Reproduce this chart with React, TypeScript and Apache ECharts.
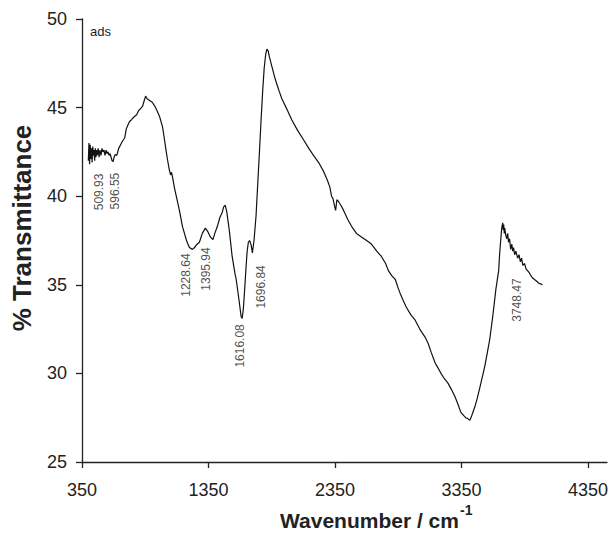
import React, { useEffect, useRef } from "react";
import * as echarts from "echarts";

const wavenumbers = [
  400, 405, 410, 415, 420, 425, 430, 435, 440, 445, 450, 455, 460, 465, 470, 478, 485, 492, 500, 508,
  516, 524, 532, 540, 548, 556, 564, 572, 580, 588, 596, 604, 612, 625, 640, 655, 670, 688, 700, 712,
  725, 740, 751, 765, 782, 795, 806, 820, 830, 842, 853, 865, 885, 905, 924, 945, 963, 987, 1000, 1010,
  1025, 1040, 1050, 1058, 1065, 1080, 1097, 1120, 1144, 1160, 1176, 1199, 1223, 1240, 1254, 1278, 1301, 1325, 1345, 1365,
  1385, 1400, 1420, 1440, 1459, 1470, 1482, 1495, 1514, 1537, 1560, 1569, 1592, 1608, 1616, 1625, 1632, 1647, 1655, 1665,
  1675, 1687, 1697, 1710, 1726, 1740, 1752, 1765, 1778, 1790, 1802, 1812, 1822, 1830, 1852, 1870, 1891, 1910, 1930, 1950,
  1970, 2009, 2040, 2064, 2100, 2143, 2180, 2221, 2260, 2290, 2310, 2323, 2335, 2345, 2355, 2365, 2378, 2400, 2418, 2450,
  2481, 2520, 2559, 2600, 2638, 2680, 2717, 2750, 2772, 2800, 2827, 2850, 2866, 2890, 2913, 2950, 2984, 3020, 3062, 3086,
  3110, 3141, 3165, 3188, 3215, 3243, 3270, 3298, 3320, 3345, 3370, 3384, 3400, 3416, 3430, 3455, 3475, 3495, 3515, 3534,
  3555, 3573, 3597, 3610, 3621, 3644, 3652, 3660, 3668, 3676, 3680, 3684, 3688, 3692, 3700, 3708, 3715, 3722, 3730, 3739,
  3748, 3755, 3762, 3770, 3780, 3794, 3805, 3815, 3825, 3835, 3849, 3860, 3872, 3884, 3896, 3910, 3927, 3945, 3959, 3975,
  3990,
];

const transmittance = [
  42.0, 43.0, 41.8, 42.9, 42.1, 42.7, 41.9, 42.8, 42.3, 42.6, 42.0, 42.7, 42.2, 42.6, 42.3, 42.7, 42.2, 42.6, 42.3, 42.7,
  42.5, 42.6, 42.3, 42.6, 42.4, 42.5, 42.3, 42.4, 42.2, 42.0, 41.95, 42.2, 42.35, 42.3, 42.7, 42.9, 43.1, 43.3, 43.8, 44.0,
  44.2, 44.3, 44.4, 44.5, 44.6, 44.8, 44.9, 45.0, 45.1, 45.4, 45.65, 45.5, 45.4, 45.3, 45.1, 44.8, 44.5, 43.9, 43.3, 42.8,
  42.1, 41.5, 41.2, 41.35, 41.1, 40.5, 39.95, 39.2, 38.3, 37.9, 37.5, 37.1, 37.0, 37.1, 37.25, 37.4, 37.9, 38.2, 38.0, 37.7,
  37.55, 37.9, 38.3, 38.8, 39.1, 39.4, 39.5, 39.1, 38.1, 36.6, 35.6, 35.3, 34.1, 33.2, 33.1, 33.6, 34.3, 36.0, 36.85, 37.4,
  37.5, 37.25, 36.8, 37.5, 38.9, 40.8, 42.4, 44.2, 45.9, 47.2, 48.0, 48.3, 48.2, 47.9, 47.3, 46.8, 46.3, 45.9, 45.5, 45.2,
  44.9, 44.3, 43.9, 43.6, 43.2, 42.7, 42.3, 41.9, 41.4, 40.9, 40.5, 40.0, 39.85, 39.5, 39.2, 39.8, 39.7, 39.45, 39.2, 38.7,
  38.3, 37.9, 37.7, 37.5, 37.3, 36.9, 36.6, 36.2, 35.8, 35.5, 35.3, 34.8, 34.5, 34.1, 33.75, 33.3, 33.0, 32.5, 32.05, 31.7,
  31.2, 30.6, 30.3, 30.0, 29.7, 29.45, 29.1, 28.7, 28.3, 27.8, 27.6, 27.5, 27.45, 27.35, 27.6, 28.1, 28.6, 29.2, 29.8, 30.4,
  31.2, 31.9, 33.2, 34.0, 34.7, 35.8, 36.8, 37.5, 38.2, 38.5, 38.1, 38.4, 37.9, 38.2, 37.8, 37.6, 37.9, 37.4, 37.6, 37.0,
  37.3, 36.9, 37.1, 36.7, 36.9, 36.5, 36.7, 36.3, 36.5, 36.1, 36.2, 35.9, 35.8, 35.7, 35.55, 35.4, 35.3, 35.2, 35.1, 35.05,
  35.0,
];

const xTickValues = [350, 1350, 2350, 3350, 4350];
const yTickValues = [25, 30, 35, 40, 45, 50];

const peakLabels = ["509.93", "596.55", "1228.64", "1395.94", "1616.08", "1696.84", "3748.47"];
const peakLabelX = [484, 609, 1176, 1333, 1600, 1765, 3786];
const peakLabelY = [40.24, 40.29, 35.55, 35.89, 31.55, 34.88, 34.14];

const FONT = '"Liberation Sans", Arial, Helvetica, sans-serif';
const TEXT = "#222";

export default function App() {
  const ref = useRef<HTMLDivElement>(null);

  useEffect(() => {
    if (!ref.current) return;
    const chart = echarts.init(ref.current, undefined, { renderer: "svg" });
    const lineData = wavenumbers.map((w, i) => [w, transmittance[i]]);
    const labelData = peakLabels.map((t, i) => ({ value: [peakLabelX[i], peakLabelY[i]], name: t }));

    chart.setOption({
      animation: false,
      backgroundColor: "#ffffff",
      grid: { left: 82, right: 1, top: 19, bottom: 72, containLabel: false },
      xAxis: {
        type: "value",
        min: 350,
        max: 4500,
        interval: 1000,
        splitLine: { show: false },
        axisLine: { show: true, onZero: false, lineStyle: { color: "#222", width: 1.3 } },
        axisTick: { show: true, inside: false, length: 6, customValues: xTickValues, lineStyle: { color: "#222", width: 1.3 } },
        axisLabel: {
          customValues: xTickValues,
          formatter: (v: number) => String(v),
          margin: 19,
          fontSize: 18,
          color: TEXT,
          fontFamily: FONT,
        },
      },
      yAxis: {
        type: "value",
        min: 25,
        max: 50,
        interval: 5,
        splitLine: { show: false },
        axisLine: { show: true, lineStyle: { color: "#222", width: 1.3 } },
        axisTick: { show: true, inside: false, length: 6, customValues: yTickValues, lineStyle: { color: "#222", width: 1.3 } },
        axisLabel: {
          customValues: yTickValues,
          formatter: (v: number) => String(v),
          margin: 15,
          fontSize: 18,
          color: TEXT,
          fontFamily: FONT,
        },
      },
      series: [
        {
          type: "line",
          data: lineData,
          showSymbol: false,
          symbol: "none",
          lineStyle: { color: "#111", width: 1.2 },
        },
        {
          type: "scatter",
          data: labelData,
          symbolSize: 1,
          itemStyle: { color: "rgba(0,0,0,0)" },
          label: {
            show: true,
            position: "inside",
            rotate: 90,
            formatter: (p: any) => p.name,
            fontSize: 12,
            color: TEXT,
            fontFamily: FONT,
            align: "center",
            verticalAlign: "middle",
          },
        },
      ],
      graphic: [
        {
          type: "text",
          left: 90,
          top: 25,
          style: { text: "ads", fontSize: 13, fill: TEXT, fontFamily: FONT },
        },
        {
          type: "text",
          x: 22,
          y: 228,
          rotation: Math.PI / 2,
          style: {
            text: "% Transmittance",
            fontSize: 26,
            fontWeight: "bold",
            fill: TEXT,
            fontFamily: FONT,
            align: "center",
            verticalAlign: "middle",
          },
        },
        {
          type: "text",
          x: 280,
          y: 520,
          style: {
            text: "Wavenumber / cm",
            fontSize: 21,
            fontWeight: "bold",
            fill: TEXT,
            fontFamily: FONT,
            align: "left",
            verticalAlign: "middle",
          },
        },
        {
          type: "text",
          x: 460,
          y: 510,
          style: {
            text: "-1",
            fontSize: 14,
            fontWeight: "bold",
            fill: TEXT,
            fontFamily: FONT,
            align: "left",
            verticalAlign: "middle",
          },
        },
      ],
    });

    return () => chart.dispose();
  }, []);

  return (
    <div
      ref={ref}
      style={{ position: "fixed", left: 0, top: 0, width: 611, height: 534, background: "#fff" }}
    />
  );
}
